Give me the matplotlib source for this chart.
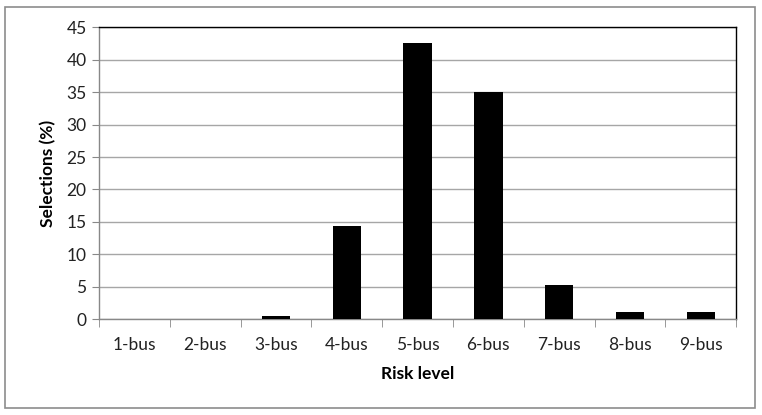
import matplotlib
matplotlib.use("Agg")
import matplotlib.pyplot as plt
from matplotlib.patches import Rectangle
import numpy as np

categories = ["1-bus", "2-bus", "3-bus", "4-bus", "5-bus", "6-bus", "7-bus", "8-bus", "9-bus"]
selections = [0, 0, 0.55, 14.3, 42.6, 35.0, 5.2, 1.1, 1.1]
y_ticks = [0, 5, 10, 15, 20, 25, 30, 35, 40, 45]

fam = ["Lato", "DejaVu Sans"]
plt.rcParams['font.family'] = fam

fig = plt.figure(figsize=(7.62, 4.15), dpi=100)
ax = fig.add_axes([0.130, 0.231, 0.836, 0.703])

x = np.arange(len(categories))
ax.bar(x, selections, width=0.4, color="black", zorder=3)

ax.set_xlim(-0.5, len(categories) - 0.5)
ax.set_ylim(0, 45)
ax.set_yticks(y_ticks)
ax.set_yticklabels([str(t) for t in y_ticks], fontsize=12.5, color="#222222")
ax.set_xticks(x)
ax.set_xticklabels(categories, fontsize=12.5, color="#222222")
ax.tick_params(axis="x", length=0, pad=13)
ax.set_xticks(np.arange(-0.5, len(categories), 1), minor=True)
ax.tick_params(axis="x", which="minor", length=6, color="#888888", direction="out")
ax.tick_params(axis="y", length=5, color="#888888", direction="out", pad=4)

ax.yaxis.grid(True, color="#a6a6a6", linewidth=1.0, zorder=0)
ax.set_axisbelow(True)

for s in ["top", "right"]:
    ax.spines[s].set_color("black")
    ax.spines[s].set_linewidth(1.0)
for s in ["left", "bottom"]:
    ax.spines[s].set_color("#888888")
    ax.spines[s].set_linewidth(1.0)

ax.set_xlabel("Risk level", fontsize=12.5, fontweight="bold", labelpad=9)
ax.set_ylabel("Selections (%)", fontsize=12.5, fontweight="bold", labelpad=7)

fig.patches.append(Rectangle((0.007, 0.017), 0.984, 0.965, transform=fig.transFigure,
                             fill=False, edgecolor="#8c8c8c", linewidth=1.2))

fig.savefig("out.png", dpi=100)
